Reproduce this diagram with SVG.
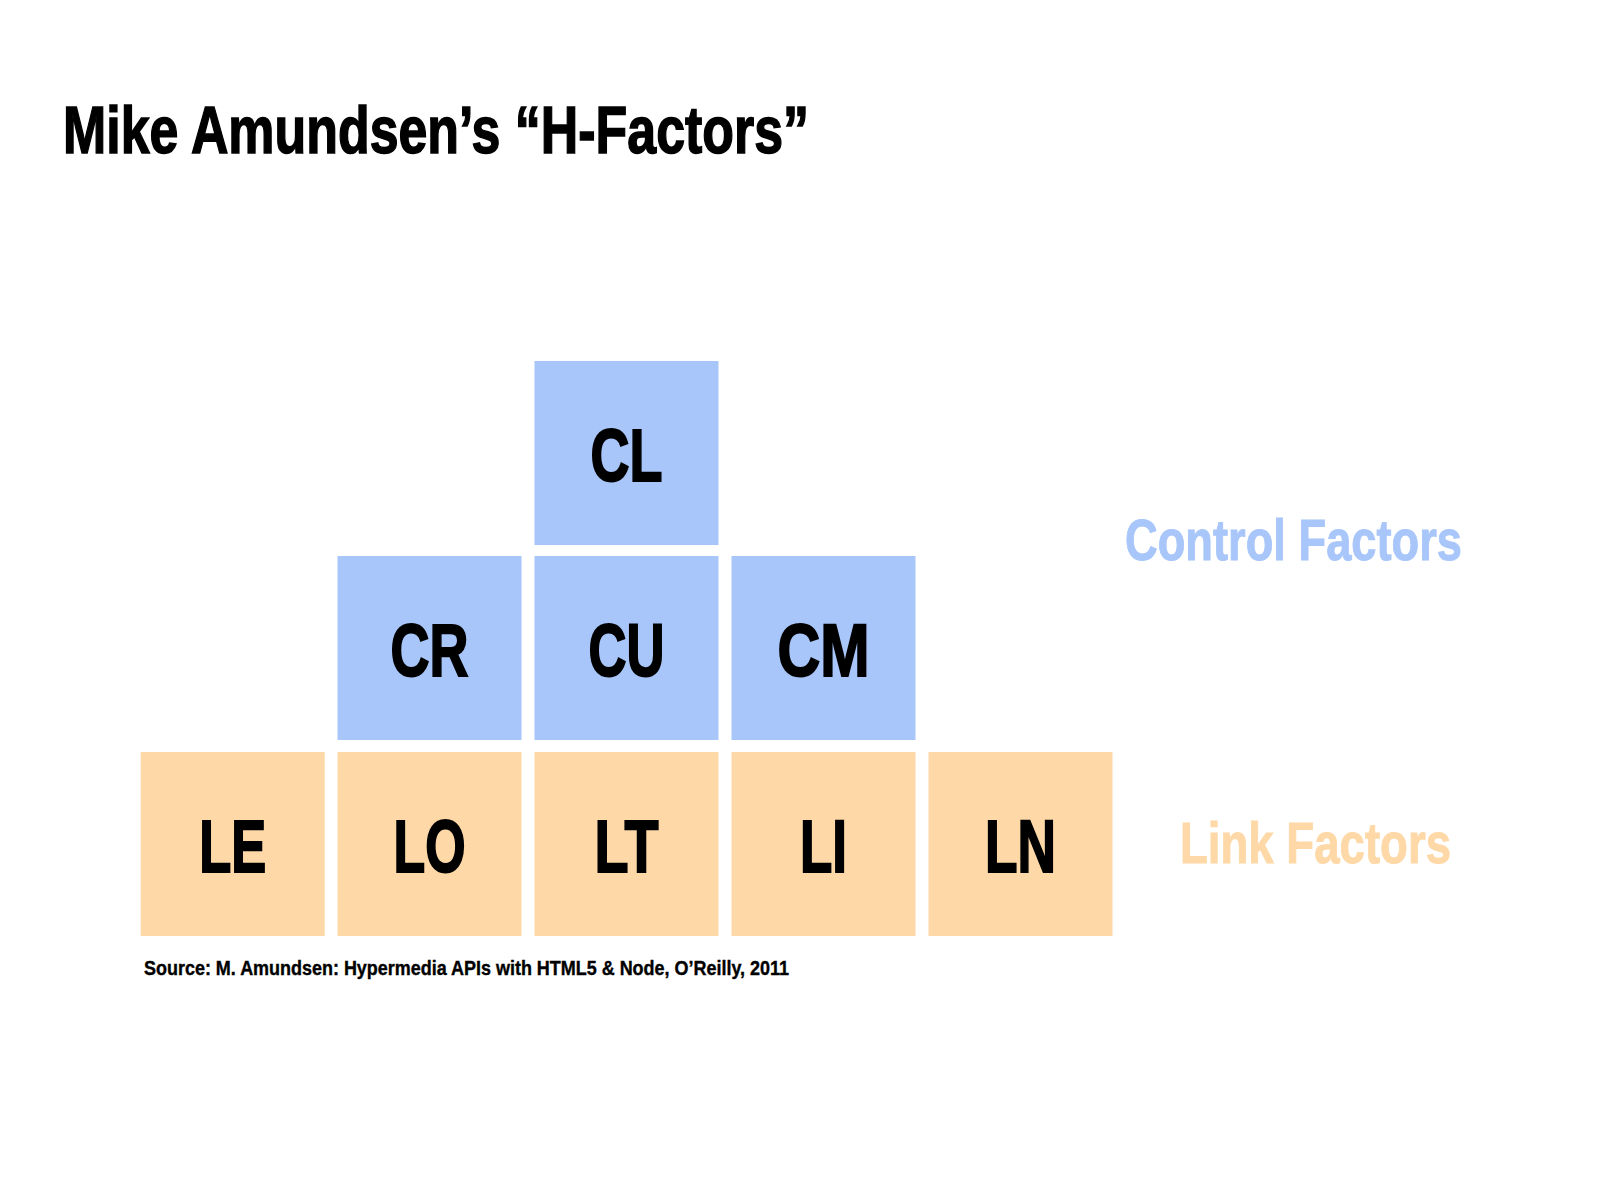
<svg xmlns="http://www.w3.org/2000/svg" width="1600" height="1200" viewBox="0 0 1600 1200">
<style>
.ctl{fill:#A8C6FA}
.lnk{fill:#FED8A6}
.lbl{font-family:"Liberation Sans Narrow","Liberation Sans",Arial,sans-serif;font-weight:bold;font-size:75px;fill:#000;stroke:#000;stroke-width:2px;text-anchor:middle}
.t{font-family:"Liberation Sans Narrow","Liberation Sans",Arial,sans-serif;font-weight:bold}
</style>
<rect width="1600" height="1200" fill="#fff"/>
<text class="t" x="63" y="153" font-size="66" fill="#000" stroke="#000" stroke-width="1.5" textLength="746" lengthAdjust="spacingAndGlyphs">Mike Amundsen’s “H-Factors”</text>
<g id="CL"><rect class="ctl" x="534.5" y="361" width="184" height="184"/><text class="lbl" x="626.5" y="481" textLength="72" lengthAdjust="spacingAndGlyphs">CL</text></g>
<g id="CR"><rect class="ctl" x="337.5" y="556" width="184" height="184"/><text class="lbl" x="429.5" y="676" textLength="78" lengthAdjust="spacingAndGlyphs">CR</text></g>
<g id="CU"><rect class="ctl" x="534.5" y="556" width="184" height="184"/><text class="lbl" x="626.5" y="676" textLength="76" lengthAdjust="spacingAndGlyphs">CU</text></g>
<g id="CM"><rect class="ctl" x="731.5" y="556" width="184" height="184"/><text class="lbl" x="823.5" y="676" textLength="92" lengthAdjust="spacingAndGlyphs">CM</text></g>
<g id="LE"><rect class="lnk" x="140.7" y="752" width="184" height="184"/><text class="lbl" x="232.7" y="872" textLength="67" lengthAdjust="spacingAndGlyphs">LE</text></g>
<g id="LO"><rect class="lnk" x="337.5" y="752" width="184" height="184"/><text class="lbl" x="429.5" y="872" textLength="72" lengthAdjust="spacingAndGlyphs">LO</text></g>
<g id="LT"><rect class="lnk" x="534.5" y="752" width="184" height="184"/><text class="lbl" x="626.5" y="872" textLength="64" lengthAdjust="spacingAndGlyphs">LT</text></g>
<g id="LI"><rect class="lnk" x="731.5" y="752" width="184" height="184"/><text class="lbl" x="823.5" y="872" textLength="47" lengthAdjust="spacingAndGlyphs">LI</text></g>
<g id="LN"><rect class="lnk" x="928.5" y="752" width="184" height="184"/><text class="lbl" x="1020.5" y="872" textLength="71" lengthAdjust="spacingAndGlyphs">LN</text></g>
<g id="connectors"></g>
<text class="t" x="1125" y="560" font-size="57" fill="#A8C6FA" stroke="#A8C6FA" stroke-width="1" textLength="337" lengthAdjust="spacingAndGlyphs">Control Factors</text>
<text class="t" x="1180" y="863" font-size="57" fill="#FED8A6" stroke="#FED8A6" stroke-width="1" textLength="271" lengthAdjust="spacingAndGlyphs">Link Factors</text>
<text class="t" x="144" y="975" font-size="21" fill="#000" stroke="#000" stroke-width="0.4" textLength="645" lengthAdjust="spacingAndGlyphs">Source: M. Amundsen: Hypermedia APIs with HTML5 &amp; Node, O’Reilly, 2011</text>
</svg>
